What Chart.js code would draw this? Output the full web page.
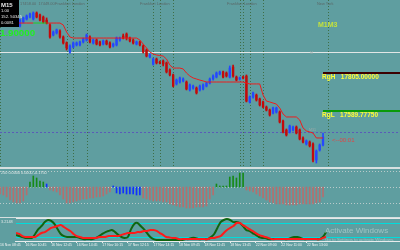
<!DOCTYPE html>
<html>
<head>
<meta charset="utf-8">
<script src="https://cdn.jsdelivr.net/npm/chart.js@4.4.0/dist/chart.umd.min.js"></script>
<style>
  html, body { margin: 0; padding: 0; background: #5f9ea0; }
  #wrap { position: relative; width: 400px; height: 250px; overflow: hidden; background: #d6e0e0; }
  canvas { position: absolute; left: 0; background: #5f9ea0; }
  #price { top: 0; }
  #osc { top: 169px; }
  #stoch { top: 218px; }
</style>
</head>
<body>
<div id="wrap">
  <canvas id="price" width="400" height="167"></canvas>
  <canvas id="osc" width="400" height="48"></canvas>
  <canvas id="stoch" width="400" height="32"></canvas>
</div>
<script>
// M15 bars, NIFTY 16-22 Nov
const opens = [18117,18088,18105,18083,18100,18077,18071,18094,18111,18122,18111,18145,18134,18122,18105,18077,
  18020,18032,18043,18009,17975,17924,17952,17964,17964,17981,
  17992,18009,17975,17992,17981,17969,17986,17975,17958,17964,
  17992,18015,18026,18003,17992,17969,17981,17958,17935,17896,
  17856,17884,17867,17873,17862,17822,17794,17743,17754,17760,
  17754,17709,17720,17720,17709,17714,17731,17748,17771,17782,
  17799,17811,17805,17782,17839,17782,17771,17782,17788,17641,
  17669,17680,17658,17641,17612,17595,17578,17584,17584,17533,
  17482,17471,17482,17499,17482,17437,17403,17414,17403,17312,
  17369,17397];
const highs = [18122,18111,18111,18105,18105,18094,18111,18122,18134,18145,18151,18151,18139,18128,18117,18083,
  18043,18054,18049,18015,17981,17964,17981,17981,17986,18003,
  18026,18015,17998,17998,17986,17992,17992,17981,17975,18009,
  18009,18026,18032,18009,17998,17986,17986,17964,17941,17913,
  17890,17890,17873,17879,17867,17828,17799,17771,17782,17777,
  17760,17743,17737,17726,17737,17743,17754,17777,17794,17811,
  17816,17816,17811,17845,17850,17788,17782,17788,17794,17675,
  17697,17686,17663,17646,17618,17601,17612,17612,17590,17539,
  17488,17510,17505,17505,17488,17443,17426,17420,17409,17369,
  17403,17465];
const lows = [18088,18083,18077,18077,18071,18071,18066,18088,18105,18117,18105,18117,18100,18088,18083,18003,
  18015,18026,18003,17969,17935,17918,17947,17958,17958,17975,
  17986,17975,17969,17964,17958,17964,17964,17947,17952,17958,
  17986,17998,17992,17981,17969,17964,17958,17918,17896,17890,
  17850,17856,17856,17845,17805,17788,17726,17737,17748,17754,
  17709,17703,17714,17686,17703,17709,17726,17743,17765,17777,
  17794,17777,17782,17777,17782,17760,17765,17771,17641,17635,
  17663,17646,17618,17607,17590,17561,17573,17578,17522,17465,
  17448,17465,17477,17460,17426,17409,17397,17386,17301,17295,
  17363,17392];
const closes = [18094,18105,18083,18100,18077,18083,18105,18117,18128,18139,18145,18122,18105,18094,18088,18009,
  18037,18049,18009,17975,17947,17958,17975,17975,17981,17998,
  18020,17981,17992,17969,17964,17986,17969,17952,17969,18003,
  18003,18003,18003,17986,17975,17981,17964,17924,17901,17907,
  17884,17862,17862,17856,17811,17794,17731,17765,17777,17771,
  17714,17737,17731,17692,17731,17737,17748,17771,17788,17805,
  17811,17782,17788,17833,17788,17765,17777,17777,17646,17669,
  17692,17652,17624,17612,17595,17567,17607,17607,17527,17471,
  17454,17505,17499,17465,17431,17414,17420,17392,17312,17363,
  17397,17443];
// trailing stop line
const trail = [18088,18088,18088,18088,18088,18088,18088,18088,18088,18088,18088,18088,18088,18088,18088,18088,18088,18088,18088,
  18077,18037,18009,
  18003,18003,18003,18003,18003,18003,18003,18003,18003,18003,18003,18003,18003,18003,18003,18003,18003,18003,18003,18003,
  17992,17969,17947,17924,17913,17907,17904,17901,17884,17850,17833,17833,17833,17828,17805,17788,17777,17771,17765,17760,
  17754,17754,17754,17754,17754,17754,17754,17754,17754,17754,17754,17754,
  17748,17743,17743,17743,17743,
  17680,17646,17641,17635,17629,17607,17573,
  17556,17556,17556,17556,
  17539,17494,17477,17471,17465,
  17437,17437,17437];
// oscillator histogram
const histogram = [-17.5,-20,-25,-32.5,-37.5,-40,-40,-35,-20,12.5,27.5,22.5,15,12.5,7.5,-7.5,-10,-12.5,-20,-30,
  -40,-40,-37.5,-35,-32.5,-30,-30,-27.5,-27.5,-25,-25,-22.5,-17.5,-12.5,2.5,-15,-17.5,-15,-17.5,-17.5,
  -17.5,-20,-20,-27.5,-30,-32.5,-35,-35,-35,
  -37.5,-37.5,-42.5,-45,-47.5,-50,-50,-52.5,-52.5,-52.5,-50,-50,-50,-47.5,-30,-20,7.5,2.5,2.5,2.5,
  25,27.5,22.5,35,35,-7.5,-10,-12.5,-17.5,-22.5,-27.5,-32.5,-37.5,-40,-42.5,-42.5,-42.5,-45,-45,-45,
  -45,-42.5,-42.5,-42.5,-42.5,-42.5,-40,-37.5,-25];
const blueBars = [14, 34, 35, 36, 37, 38, 39, 40, 41, 42];
// stochastic main / signal
const stochMain = [29,24,20,16,16,16,33,54,67,84,93,89,76,54,33,24,20,20,20,20,16,11,11,11,11,16,24,33,41,46,50,41,29,20,16,20,
  54,76,80,67,54,37,20,11,7,7,7,7,7,
  7,7,7,7,11,11,16,16,11,11,11,11,20,33,59,84,93,97,93,84,84,80,67,50,46,37,29,20,16,16,11,11,11,11,11,11,11,16,20,20,16,
  11,11,11,11,11,11,20,41];
const stochSignal = [37,33,24,20,20,20,20,29,37,41,50,59,63,67,71,63,54,46,33,24,20,16,16,16,16,16,20,20,20,24,
  24,24,24,29,33,37,37,37,41,41,46,46,50,50,46,37,29,20,18,
  16,16,11,11,11,11,11,11,11,11,11,11,16,16,20,24,37,50,59,67,80,80,71,63,54,46,37,29,24,20,16,11,
  11,11,11,11,11,11,11,11,11,11,11,11,11,11,11,16,20];
const timeTicks = [-5, 3, 11, 19, 27, 35, 43, 51, 59, 67, 75, 83, 91];
const timeLabels = ['16 Nov 08:45','16 Nov 10:45','16 Nov 12:45','16 Nov 14:45','17 Nov 10:15','17 Nov 12:15',
  '17 Nov 14:15','18 Nov 09:45','18 Nov 11:45','18 Nov 13:45','22 Nov 09:00','22 Nov 11:00','22 Nov 13:00'];
const sessionBars = [0, 20, 22, 26, 46, 48, 52, 72, 73, 75, 79, 98.5];
const rangeHigh = 17805.0, rangeLow = 17589.7775;
const dayLevel = 17924, pivotLevel = 17471;

const barsInView = 120.12;
const lastBar = opens.length - 1;
const font = (size, bold) => (bold ? 'bold ' : '') + size + 'px "Liberation Sans", Arial, sans-serif';
const upColor = '#2448ff', downColor = '#c40a0a';
const candleColor = c => closes[c.dataIndex] >= opens[c.dataIndex] ? upColor : downColor;
const xScale = { type: 'linear', display: false, min: 0, max: barsInView, offset: false };

const priceDecor = {
  id: 'priceDecor',
  beforeDatasetsDraw(chart) {
    const { ctx, chartArea: a, scales: { x, y } } = chart;
    ctx.save();
    ctx.lineWidth = 1;
    ctx.strokeStyle = '#3e6e46';
    ctx.setLineDash([1, 2]);
    sessionBars.forEach(b => {
      const px = Math.round(x.getPixelForValue(b)) + 0.5;
      ctx.beginPath(); ctx.moveTo(px, a.top); ctx.lineTo(px, a.bottom); ctx.stroke();
    });
    ctx.strokeStyle = '#5a5ab8';
    ctx.setLineDash([2, 2]);
    let py = Math.round(y.getPixelForValue(pivotLevel)) + 0.5;
    ctx.beginPath(); ctx.moveTo(a.left, py); ctx.lineTo(a.right, py); ctx.stroke();
    ctx.setLineDash([]);
    ctx.strokeStyle = '#e2e6e6';
    py = Math.round(y.getPixelForValue(dayLevel)) + 0.5;
    ctx.beginPath(); ctx.moveTo(a.left, py); ctx.lineTo(a.right, py); ctx.stroke();
    ctx.restore();
  },
  afterDatasetsDraw(chart) {
    const { ctx, chartArea: a, scales: { x, y } } = chart;
    ctx.save();
    const x0 = x.getPixelForValue(lastBar);
    // range lines
    ctx.lineWidth = 2;
    ctx.strokeStyle = '#3c0000';
    let hy = y.getPixelForValue(rangeHigh);
    ctx.beginPath(); ctx.moveTo(x0, hy); ctx.lineTo(a.right, hy); ctx.stroke();
    ctx.strokeStyle = '#0a9a0a';
    let ly = y.getPixelForValue(rangeLow);
    ctx.beginPath(); ctx.moveTo(x0, ly); ctx.lineTo(a.right, ly); ctx.stroke();
    ctx.fillStyle = '#ffff33';
    ctx.font = font(6.5, true);
    ctx.textBaseline = 'middle';
    ctx.fillText('RgH   ' + rangeHigh.toFixed(5), x0 - 1, hy + 4.5);
    ctx.fillText('RgL   ' + rangeLow.toFixed(5), x0 - 1, ly + 4.5);
    // labels
    ctx.fillStyle = '#c4e23c';
    ctx.font = font(7, true);
    ctx.fillText('M1M3', 318, 25);
    ctx.fillStyle = '#e04545';
    ctx.font = font(6, false);
    ctx.fillText('<--00:01', x0 + 9, y.getPixelForValue(closes[lastBar]) + 3.5);
    ctx.fillStyle = '#9aa8a8';
    ctx.font = font(3.6, false);
    ctx.fillText('M', 310, y.getPixelForValue(dayLevel) + 1.5);
    ctx.fillText('M31', 309, y.getPixelForValue(pivotLevel) - 1.5);
    // top labels
    ctx.fillStyle = '#5a6868';
    ctx.font = font(3.9, false);
    ctx.fillText('17458.00  17449.00', 20, 4);
    ctx.fillText('Frankfurt London', 55, 4);
    ctx.fillText('Frankfurt London', 140, 4);
    ctx.fillText('Frankfurt London', 227, 4);
    ctx.fillText('New York', 317, 4);
    // info box
    ctx.fillStyle = '#000';
    ctx.fillRect(0, 0, 19, 27);
    ctx.fillStyle = '#e8e8e8';
    ctx.font = font(6, true);
    ctx.fillText('M15', 1, 5);
    ctx.font = font(4.2, false);
    ctx.fillText('1.00', 1, 11);
    ctx.fillText('152. 50345', 1, 17);
    ctx.fillText('0.0081', 1, 23);
    ctx.fillStyle = '#22ee22';
    ctx.font = font(9.7, true);
    ctx.fillText('1.90000', 0, 33);
    ctx.restore();
  }
};

new Chart(document.getElementById('price'), {
  data: {
    datasets: [
      {
        type: 'bar', grouped: false, order: 3, barThickness: 1,
        data: opens.map((o, i) => ({ x: i, y: [lows[i], highs[i]] })),
        backgroundColor: candleColor
      },
      {
        type: 'bar', grouped: false, order: 2, barThickness: 1.7, minBarLength: 1,
        data: opens.map((o, i) => ({ x: i, y: [o, closes[i]] })),
        backgroundColor: candleColor
      },
      {
        type: 'line', order: 1, borderWidth: 1, pointRadius: 0, tension: 0,
        data: trail.map((v, i) => ({ x: i, y: v })),
        borderColor: '#ee1c1c',
        segment: { borderColor: s => (s.p0DataIndex >= 10 && s.p0DataIndex < 14) ? '#22cc22' : undefined }
      }
    ]
  },
  options: {
    responsive: false, animation: false, devicePixelRatio: 1,
    layout: { padding: 0 },
    plugins: { legend: { display: false }, tooltip: { enabled: false } },
    scales: {
      x: xScale,
      y: { display: false, min: 17272.6, max: 18218.5 }
    }
  },
  plugins: [priceDecor]
});

const oscDecor = {
  id: 'oscDecor',
  beforeDatasetsDraw(chart) {
    const { ctx, chartArea: a, scales: { y } } = chart;
    ctx.save();
    ctx.strokeStyle = '#b9caca';
    ctx.setLineDash([1, 2]);
    [40, 0, -40].forEach(v => {
      const py = Math.round(y.getPixelForValue(v)) + 0.5;
      ctx.beginPath(); ctx.moveTo(a.left, py); ctx.lineTo(a.right, py); ctx.stroke();
    });
    ctx.restore();
  },
  afterDraw(chart) {
    const { ctx } = chart;
    ctx.save();
    ctx.fillStyle = '#dde6e6';
    ctx.font = font(3.8, false);
    ctx.textBaseline = 'middle';
    ctx.fillText('250 0.0000 0.0000 -0.1750', 1, 4);
    ctx.restore();
  }
};

new Chart(document.getElementById('osc'), {
  type: 'bar',
  data: {
    datasets: [{
      barThickness: 1,
      data: histogram.map((v, i) => ({ x: i, y: v })),
      backgroundColor: c => blueBars.includes(c.dataIndex) ? '#1030ff'
        : (histogram[c.dataIndex] >= 0 ? '#178a17' : '#b46e6e')
    }]
  },
  options: {
    responsive: false, animation: false, devicePixelRatio: 1,
    layout: { padding: 0 },
    plugins: { legend: { display: false }, tooltip: { enabled: false } },
    scales: {
      x: xScale,
      y: { display: false, min: -75, max: 45 }
    }
  },
  plugins: [oscDecor]
});

const stochDecor = {
  id: 'stochDecor',
  beforeDatasetsDraw(chart) {
    const { ctx, chartArea: a, scales: { y } } = chart;
    ctx.save();
    ctx.strokeStyle = '#00dcdc';
    [80, 20].forEach(v => {
      const py = Math.round(y.getPixelForValue(v)) + 0.5;
      ctx.beginPath(); ctx.moveTo(a.left, py); ctx.lineTo(a.right, py); ctx.stroke();
    });
    ctx.strokeStyle = '#e6eaea';
    ctx.beginPath(); ctx.moveTo(a.left, 0.5); ctx.lineTo(a.right, 0.5); ctx.stroke();
    ctx.restore();
  },
  afterDraw(chart) {
    const { ctx } = chart;
    ctx.save();
    ctx.textBaseline = 'middle';
    ctx.fillStyle = '#dde6e6';
    ctx.font = font(3.8, false);
    ctx.fillText('3.2148', 1, 3.5);
    ctx.fillStyle = 'rgba(235,240,240,0.45)';
    ctx.font = font(8, false);
    ctx.fillText('Activate Windows', 325, 13);
    ctx.font = font(4.4, false);
    ctx.fillText('Go to Settings to activate Windows.', 325, 22);
    ctx.restore();
  }
};

new Chart(document.getElementById('stoch'), {
  type: 'line',
  data: {
    datasets: [
      {
        data: stochSignal.map((v, i) => ({ x: i, y: v })),
        borderColor: '#ff1a1a', borderWidth: 2, pointRadius: 0, tension: 0.3
      },
      {
        data: stochMain.map((v, i) => ({ x: i, y: v })),
        borderColor: '#0f650f', borderWidth: 2, pointRadius: 0, tension: 0.3
      }
    ]
  },
  options: {
    responsive: false, animation: false, devicePixelRatio: 1,
    layout: { padding: 0 },
    plugins: { legend: { display: false }, tooltip: { enabled: false } },
    scales: {
      x: {
        type: 'linear', min: 0, max: barsInView, offset: false,
        afterFit: s => { s.height = 9; },
        afterBuildTicks: s => { s.ticks = timeTicks.map(v => ({ value: v })); },
        border: { display: true, color: '#e8ecec', width: 1 },
        grid: { drawOnChartArea: false, drawTicks: true, tickLength: 2, color: '#e8ecec' },
        ticks: {
          autoSkip: false, maxRotation: 0, align: 'start', padding: 0,
          color: '#eef2f2', font: { size: 3.5, family: '"Liberation Sans", Arial, sans-serif' },
          callback: v => timeLabels[timeTicks.indexOf(v)]
        }
      },
      y: { display: false, min: 2.84, max: 101.5 }
    }
  },
  plugins: [stochDecor]
});
</script>
</body>
</html>
